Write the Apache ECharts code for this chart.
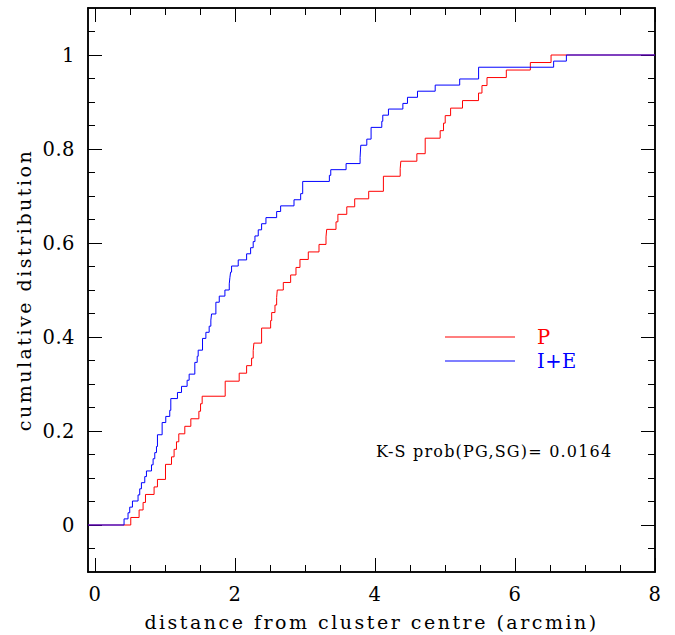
<!DOCTYPE html>
<html>
<head>
<meta charset="utf-8">
<script src="https://cdn.jsdelivr.net/npm/echarts@6/dist/echarts.min.js"></script>
<style>
html,body{margin:0;padding:0;background:#fff;}
#c{width:675px;height:635px;}
#c text[style*="19px"]{letter-spacing:2.5px;}
#c text[style*="19.5px"]{letter-spacing:0.5px;}
#c text[style*="16px"]{letter-spacing:1.2px;}
</style>
</head>
<body>
<div id="c"></div>
<script>
// Red "P" sample: step positions (arcmin) and cumulative levels
const pX = [0.511,0.630,0.687,0.721,0.844,0.892,1.007,1.093,1.130,1.164,1.197,1.283,1.369,1.484,1.508,1.531,1.860,2.060,2.166,2.237,2.260,2.270,2.380,2.509,2.524,2.571,2.595,2.604,2.690,2.795,2.871,2.928,3.047,3.200,3.300,3.310,3.443,3.470,3.597,3.710,3.910,4.120,4.360,4.369,4.598,4.717,4.931,4.979,5.003,5.080,5.250,5.479,5.528,5.600,5.876,6.219,6.515];
const pY = [0.016,0.032,0.048,0.065,0.081,0.097,0.129,0.145,0.161,0.177,0.194,0.210,0.226,0.242,0.258,0.274,0.306,0.323,0.339,0.355,0.371,0.387,0.419,0.435,0.452,0.468,0.484,0.500,0.516,0.532,0.548,0.565,0.581,0.597,0.613,0.629,0.645,0.661,0.677,0.694,0.710,0.742,0.758,0.774,0.790,0.823,0.839,0.855,0.871,0.887,0.903,0.919,0.935,0.952,0.968,0.984,1.000];
// Blue "I+E" sample
const ieX = [0.415,0.472,0.496,0.535,0.615,0.639,0.663,0.711,0.735,0.807,0.830,0.854,0.878,0.892,0.959,1.011,1.068,1.083,1.178,1.236,1.316,1.345,1.426,1.460,1.474,1.536,1.584,1.631,1.655,1.665,1.727,1.775,1.856,1.918,1.927,1.937,1.951,2.046,2.166,2.223,2.260,2.285,2.332,2.380,2.442,2.595,2.652,2.843,2.938,2.967,3.348,3.368,3.587,3.787,3.797,3.883,3.944,4.097,4.111,4.192,4.398,4.464,4.607,4.860,5.210,5.480,6.552,6.734];
const ieY = [0.013,0.026,0.038,0.051,0.064,0.077,0.090,0.103,0.115,0.128,0.141,0.154,0.167,0.192,0.218,0.231,0.244,0.269,0.282,0.295,0.308,0.321,0.346,0.359,0.372,0.397,0.410,0.423,0.436,0.449,0.474,0.487,0.500,0.513,0.526,0.538,0.551,0.564,0.577,0.590,0.603,0.615,0.628,0.641,0.654,0.667,0.679,0.692,0.705,0.731,0.744,0.756,0.769,0.782,0.808,0.821,0.846,0.859,0.872,0.885,0.897,0.910,0.923,0.936,0.949,0.974,0.987,1.000];

const xMajor = [0,2,4,6,8];
const xMinor = [0.5,1,1.5,2.5,3,3.5,4.5,5,5.5,6.5,7,7.5];
const yMajor = [0,0.2,0.4,0.6,0.8,1];
const yMinor = [-0.05,0.05,0.1,0.15,0.25,0.3,0.35,0.45,0.5,0.55,0.65,0.7,0.75,0.85,0.9,0.95,1.05];

const xRange = [-0.1, 8];
const yRange = [-0.1, 1.1];

function build(xs, ys) {
  const d = [[xRange[0], 0]];
  for (let i = 0; i < xs.length; i++) d.push([xs[i], ys[i]]);
  d.push([xRange[1], 1]);
  return d;
}

const FONT = 'DejaVu Serif';
const frame = { color: '#000', width: 1.5 };

function xAx(pos, ticks, len, labels) {
  return {
    type: 'value', position: pos, min: xRange[0], max: xRange[1],
    axisLine: { show: true, onZero: false, lineStyle: frame },
    axisTick: { show: true, inside: true, length: len, customValues: ticks, lineStyle: { color: '#000', width: 1 } },
    axisLabel: labels ? { show: true, customValues: xMajor, margin: 12, color: '#000', fontFamily: FONT, fontSize: 19.5 } : { show: false },
    splitLine: { show: false }
  };
}
function yAx(pos, ticks, len, labels) {
  return {
    type: 'value', position: pos, min: yRange[0], max: yRange[1],
    axisLine: { show: true, onZero: false, lineStyle: frame },
    axisTick: { show: true, inside: true, length: len, customValues: ticks, lineStyle: { color: '#000', width: 1 } },
    axisLabel: labels ? { show: true, customValues: yMajor, margin: 13, color: '#000', fontFamily: FONT, fontSize: 19.5 } : { show: false },
    splitLine: { show: false }
  };
}

const xs = [xAx('bottom', xMajor, 14, true), xAx('bottom', xMinor, 7, false), xAx('top', xMajor, 14, false), xAx('top', xMinor, 7, false)];
xs[0].name = 'distance from cluster centre (arcmin)';
xs[0].nameLocation = 'middle';
xs[0].nameGap = 40;
xs[0].nameTextStyle = { fontFamily: FONT, fontSize: 19, color: '#000' };
const ys = [yAx('left', yMajor, 14, true), yAx('left', yMinor, 7, false), yAx('right', yMajor, 14, false), yAx('right', yMinor, 7, false)];
ys[0].name = 'cumulative distribution';
ys[0].nameLocation = 'middle';
ys[0].nameGap = 50;
ys[0].nameTextStyle = { fontFamily: FONT, fontSize: 19, color: '#000' };

const chart = echarts.init(document.getElementById('c'), null, { renderer: 'svg' });
chart.setOption({
  backgroundColor: '#fff',
  animation: false,
  grid: { left: 88, right: 20, top: 8, bottom: 63, containLabel: false, outerBoundsMode: 'none' },
  xAxis: xs,
  yAxis: ys,
  legend: {
    orient: 'vertical', left: 445, top: 327, padding: 0,
    itemWidth: 70, itemHeight: 1.3, itemGap: 4,
    icon: 'path://M0,0H70V1H0Z',
    data: [
      { name: 'P', textStyle: { color: '#ff0000' } },
      { name: 'I+E', textStyle: { color: '#0000ff' } }
    ],
    textStyle: { fontFamily: FONT, fontSize: 19.5, padding: [0, 0, 0, 17] }
  },
  graphic: [{
    type: 'text', left: 376, top: 443,
    style: { text: 'K-S prob(PG,SG)= 0.0164', fontFamily: FONT, fontSize: 16, fill: '#000' }
  }],
  series: [
    { name: 'P', type: 'line', step: 'end', symbol: 'none', data: build(pX, pY), lineStyle: { color: '#ff0000', width: 1 }, itemStyle: { color: '#ff0000' }, xAxisIndex: 0, yAxisIndex: 0 },
    { name: 'I+E', type: 'line', step: 'end', symbol: 'none', data: build(ieX, ieY), lineStyle: { color: '#0000ff', width: 1 }, itemStyle: { color: '#0000ff' }, xAxisIndex: 0, yAxisIndex: 0 }
  ]
});
</script>
</body>
</html>
